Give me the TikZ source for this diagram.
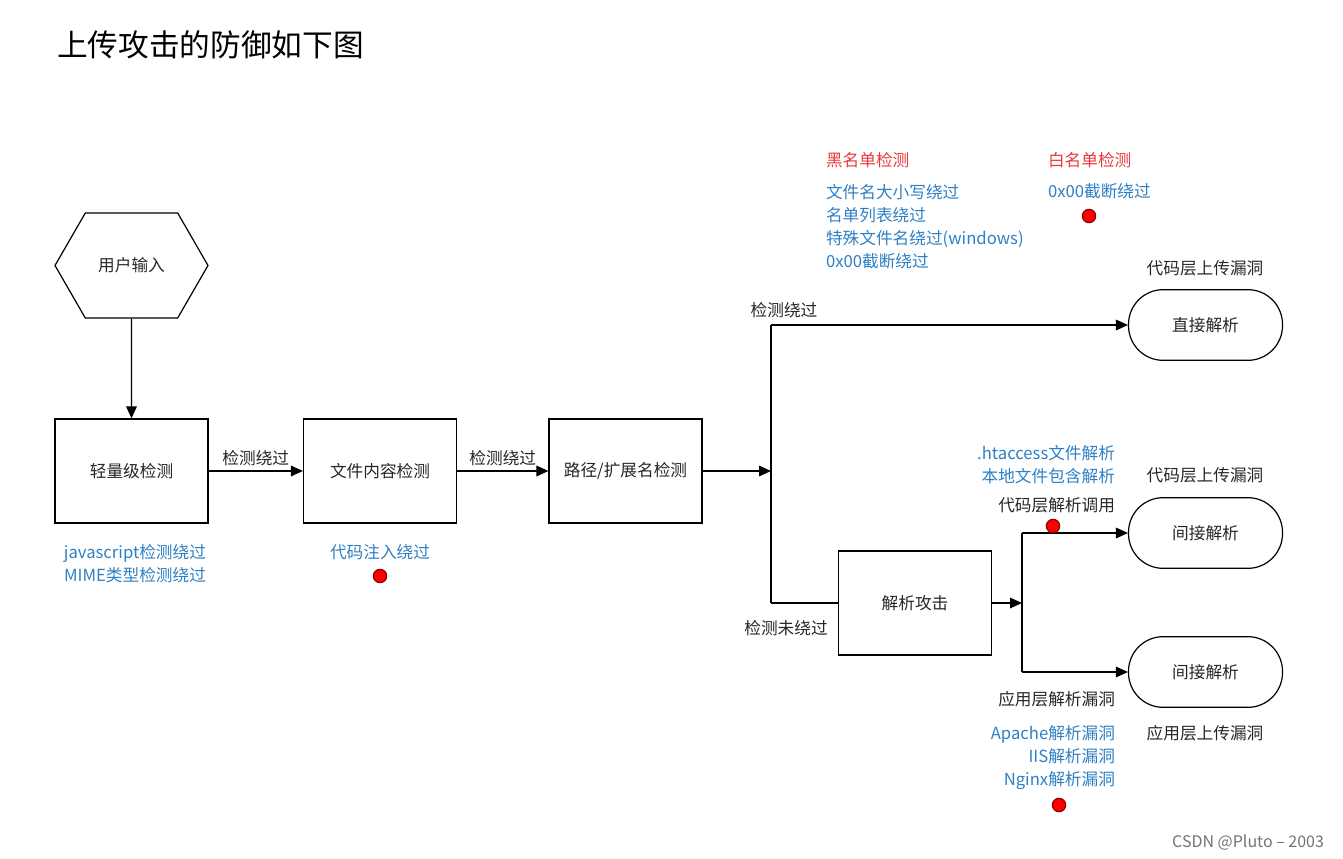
\documentclass[tikz,border=0pt]{standalone}
\usepackage{fontspec}
\setmainfont{Noto Sans CJK SC}
\usetikzlibrary{arrows.meta}
\usetikzlibrary{shapes.symbols}
\definecolor{tipblue}{RGB}{46,128,196}
\definecolor{tipred}{RGB}{232,56,61}
\tikzset{l/.style={font=\fontsize{12.5}{17.25}\selectfont, text=black!85}}
\tikzset{t/.style={font=\fontsize{23}{23}\selectfont}}
\tikzset{chk/.style={draw, line width=0.9pt, minimum width=114.75pt, minimum height=78pt, l}}
\tikzset{res/.style={draw, rounded corners=26pt, line width=0.9pt, minimum width=115.5pt, minimum height=53pt, l}}
\tikzset{hex/.style={draw, signal, signal to=west and east, signal pointer angle=120, line width=0.9pt, minimum width=114.75pt, minimum height=78.75pt, l}}
\tikzset{hint/.style={font=\fontsize{12.5}{17.25}\selectfont, text=tipblue}}
\tikzset{warn/.style={font=\fontsize{12.5}{17.25}\selectfont, text=tipred}}
\tikzset{dot/.style={circle, draw=red!55!black, fill=red, inner sep=0pt, minimum size=10pt}}

\begin{document}
\begin{tikzpicture}[x=0.75pt, y=-0.75pt, line width=0.9pt, >={Triangle[length=9pt,width=8pt]}]
  \useasboundingbox (0,0) rectangle (1343,859);
  \node [t, anchor=west] (title) at (52,45) {上传攻击的防御如下图};

  % main chain
  \node [hex] (input) at (131.5,265.5) {用户输入};
  \node [chk] (light) at (131.5,471) {轻量级检测}
    edge [<-] (input);
  \node [chk] (content) at (380,471) {文件内容检测}
    edge [<-] node [l, above] {检测绕过} (light);
  \node [chk] (path) at (625.5,471) {路径/扩展名检测}
    edge [<-] node [l, above] {检测绕过} (content);

  % first fork
  \coordinate (fork) at (771,471);
  \coordinate (forkup) at (771,325);
  \coordinate (forkdown) at (771,603);
  \draw [->] (path) -- (fork);
  \draw (forkup) -- (forkdown);
  \node [res] (direct) at (1205.5,325) {直接解析}
    edge [<-] (forkup);
  \node [chk] (parse) at (915,603) {解析攻击}
    edge (forkdown);
  \node [l] (bypass) at (784,310) {检测绕过};
  \node [l] (nobypass) at (786,628) {检测未绕过};

  % second fork
  \coordinate (split) at (1022,603);
  \coordinate (splitup) at (1022,533);
  \coordinate (splitdown) at (1022,672);
  \draw [->] (parse) -- (split);
  \draw (splitup) -- (splitdown);
  \node [res] (indirectA) at (1205.5,533) {间接解析}
    edge [<-] (splitup);
  \node [res] (indirectB) at (1205.5,672) {间接解析}
    edge [<-] (splitdown);

  % black labels
  \node [l] (codeA) at (1205,268) {代码层上传漏洞};
  \node [l] (codeB) at (1205,475) {代码层上传漏洞};
  \node [l] (appB) at (1205,733) {应用层上传漏洞};
  \node [l, anchor=east] (codecall) at (1120,505) {代码层解析调用};
  \node [l, anchor=east] (appvuln) at (1120,699) {应用层解析漏洞};

  % bypass notes
  \node [hint, align=right, anchor=north east] (jsnote) at (211,539) {javascript检测绕过\\MIME类型检测绕过};
  \node [hint] (injnote) at (380,552) {代码注入绕过};
  \node [warn, anchor=west] (black) at (821,160) {黑名单检测};
  \node [hint, align=left, anchor=north west] (blacknote) at (821,179) {文件名大小写绕过\\名单列表绕过\\特殊文件名绕过(windows)\\0x00截断绕过};
  \node [warn, anchor=west] (white) at (1043,160) {白名单检测};
  \node [hint, anchor=west] (whitenote) at (1043,191) {0x00截断绕过};
  \node [hint, align=right, anchor=north east] (htnote) at (1120,440) {.htaccess文件解析\\本地文件包含解析};
  \node [hint, align=right, anchor=north east] (srvnote) at (1120,720) {Apache解析漏洞\\IIS解析漏洞\\Nginx解析漏洞};

  % red marks
  \node [dot] (dotA) at (380,576) {};
  \node [dot] (dotB) at (1089,216) {};
  \node [dot] (dotC) at (1053,526) {};
  \node [dot] (dotD) at (1059,805) {};

  \node [font=\fontsize{12}{12}\selectfont, text=black!55, anchor=east] (mark) at (1329,843) {CSDN @Pluto – 2003};
\end{tikzpicture}
\end{document}
